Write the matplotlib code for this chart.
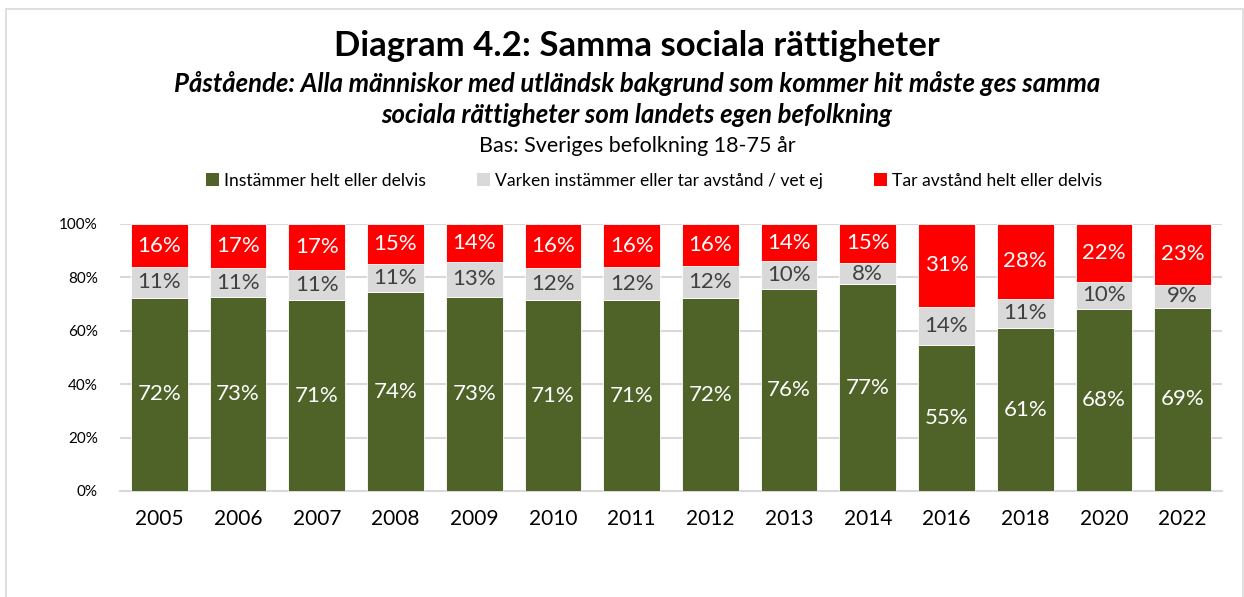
import numpy as np
import matplotlib
matplotlib.use("Agg")
import matplotlib.pyplot as plt
from matplotlib.patches import Rectangle, Patch

plt.rcParams['font.family'] = ['Lato', 'DejaVu Sans']

# Data (share of population, %)
years = ["2005", "2006", "2007", "2008", "2009", "2010", "2011",
         "2012", "2013", "2014", "2016", "2018", "2020", "2022"]
instammer = [72.4, 72.6, 71.4, 74.4, 72.8, 71.4, 71.4, 72.2, 75.8, 77.4, 54.8, 61.0, 68.2, 68.6]
varken = [11.4, 10.8, 11.2, 10.8, 12.9, 12.3, 12.4, 12.2, 10.3, 8.0, 14.3, 11.0, 10.1, 8.7]
tar_avstand = [16.2, 16.6, 17.4, 14.8, 14.3, 16.3, 16.2, 15.6, 13.9, 14.6, 30.9, 28.0, 21.7, 22.7]

series_names = ["Instämmer helt eller delvis",
                "Varken instämmer eller tar avstånd / vet ej",
                "Tar avstånd helt eller delvis"]
colors = ["#4F6228", "#D9D9D9", "#FF0000"]
label_colors = ["white", "#404040", "white"]

W, H = 1244, 597
fig = plt.figure(figsize=(W / 100, H / 100), dpi=100)

# outer chart frame
fig.patches.append(Rectangle((6 / W, -0.02), (1243 - 6) / W, 1 - 9 / H + 0.02,
                             transform=fig.transFigure, fill=False,
                             edgecolor="#D9D9D9", linewidth=1.2))

ax = fig.add_axes([120 / W, 1 - 491 / H, (1222 - 120) / W, (491 - 224) / H])

x = np.arange(len(years))
bottom = np.zeros(len(years))
for vals, col, lcol in zip([instammer, varken, tar_avstand], colors, label_colors):
    vals = np.array(vals)
    ax.bar(x, vals, 0.72, bottom=bottom, color=col, edgecolor="white", linewidth=0.6, zorder=3)
    for xi, b, v in zip(x, bottom, vals):
        ax.text(xi, b + v / 2, f"{int(v + 0.5)}%", ha="center", va="center",
                color=lcol, fontsize=16, zorder=4)
    bottom += vals

ax.set_xlim(-0.5, len(years) - 0.5)
ax.set_ylim(0, 100)
ax.set_yticks(np.arange(0, 101, 20))
ax.set_yticklabels([f"{v}%" for v in range(0, 101, 20)], fontsize=11, color="#000000")
ax.set_xticks(x)
ax.set_xticklabels(years, fontsize=15, color="#000000")
ax.tick_params(axis="both", length=0)
ax.tick_params(axis="x", pad=13)
ax.tick_params(axis="y", pad=16)
ax.grid(axis="y", color="#D9D9D9", linewidth=1.5, zorder=0)
for s in ["top", "right", "left"]:
    ax.spines[s].set_visible(False)
ax.spines["bottom"].set_color("#D9D9D9")
ax.spines["bottom"].set_linewidth(1.5)

cx = 637 / W
fig.text(cx, 1 - 46 / H, "Diagram 4.2: Samma sociala rättigheter", ha="center", va="center",
         fontsize=25, fontweight="bold")
fig.text(cx, 1 - 84 / H, "Påstående: Alla människor med utländsk bakgrund som kommer hit måste ges samma",
         ha="center", va="center", fontsize=18.5, fontweight="bold", style="italic")
fig.text(cx, 1 - 115 / H, "sociala rättigheter som landets egen befolkning",
         ha="center", va="center", fontsize=18.5, fontweight="bold", style="italic")
fig.text(cx, 1 - 146 / H, "Bas: Sveriges befolkning 18-75 år", ha="center", va="center", fontsize=15.5)

handles = [Patch(facecolor=c, edgecolor="none") for c in colors]
fig.legend(handles, series_names, loc="center", bbox_to_anchor=(654 / W, 1 - 181 / H),
           ncol=3, frameon=False, fontsize=12.6, handlelength=0.75, handleheight=0.75,
           handletextpad=0.3, columnspacing=2.9)

fig.savefig("out.png", dpi=100, facecolor="white")
